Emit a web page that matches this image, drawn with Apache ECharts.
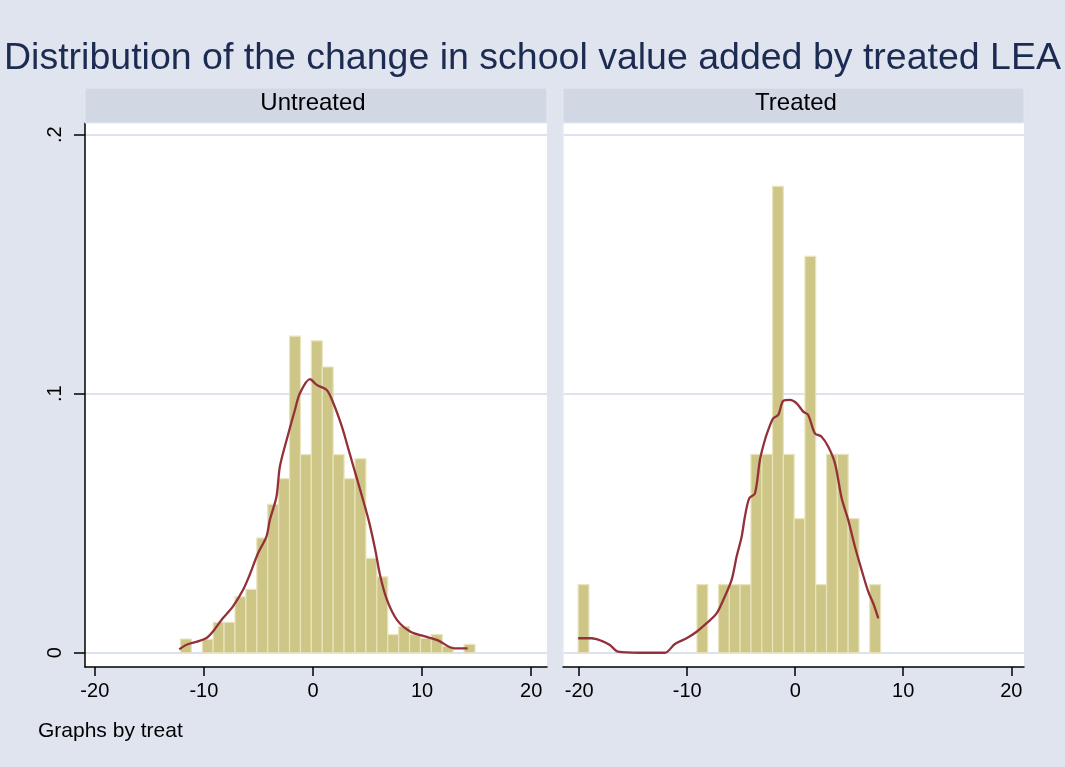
<!DOCTYPE html>
<html><head><meta charset="utf-8">
<script src="https://cdn.jsdelivr.net/npm/echarts@6/dist/echarts.min.js"></script>
<style>html,body{margin:0;padding:0;background:#dfe4ef}#c{width:1065px;height:767px}</style>
</head><body><div id="c"></div>
<script>
// ---- data ----
const chartTitle = 'Distribution of the change in school value added by treated LEA';
const panelNames = ['Untreated', 'Treated'];
const noteText = 'Graphs by treat';
const xTicks = [-20, -10, 0, 10, 20];
const yTicks = [0, 0.1, 0.2];
const yTickLabels = ['0', '.1', '.2'];

const binWidth = 1.0;
const untreatedBinStart = -12.15;
const untreatedDensity = [0.0053, 0, 0.0052, 0.0117, 0.0117, 0.0216, 0.0245, 0.0443, 0.0573, 0.0672,
  0.1222, 0.0765, 0.1204, 0.1103, 0.0765, 0.0672, 0.0749, 0.0364, 0.0293, 0.0070,
  0.0102, 0.0070, 0.0055, 0.0070, 0.0025, 0, 0.0032];
const treatedBinStart = -20.1;
const treatedDensity = [0.0263, 0, 0, 0, 0, 0, 0, 0, 0, 0,
  0, 0.0263, 0, 0.0263, 0.0263, 0.0263, 0.0766, 0.0766, 0.180, 0.0766,
  0.0518, 0.153, 0.0263, 0.0766, 0.0766, 0.0518, 0, 0.0263];

const untreatedKdeX = [-12.26, -11.64, -10.72, -9.8, -9.19, -8.27, -7.35, -6.42, -5.81, -5.04, -4.27, -3.96, -3.35, -3.04, -2.42, -1.66, -1.2, -0.28, 0.34, 1.26, 1.87, 2.65, 3.1, 3.71, 4.33, 5.1, 5.71, 6.18, 6.79, 7.71, 8.94, 10.17, 11.4, 12.94, 14.17];
const untreatedKdeY = [0.0013, 0.0030, 0.0042, 0.0056, 0.0081, 0.0133, 0.0178, 0.0242, 0.0300, 0.0384, 0.0448, 0.0512, 0.0602, 0.0718, 0.0821, 0.0937, 0.1002, 0.1056, 0.1034, 0.1014, 0.0963, 0.0873, 0.0808, 0.0718, 0.0628, 0.0512, 0.0397, 0.0293, 0.0203, 0.0126, 0.0081, 0.0064, 0.0049, 0.0017, 0.0017];
const treatedKdeX = [-20.09, -18.85, -17.93, -17.16, -16.39, -14.38, -12.06, -11.14, -10.06, -9.13, -8.2, -7.28, -6.67, -5.89, -5.43, -4.96, -4.66, -4.26, -3.73, -3.27, -2.9, -2.5, -2.04, -1.57, -1.11, -0.49, 0.13, 0.74, 1.2, 1.82, 2.44, 3.06, 3.68, 4.3, 4.91, 5.53, 6.15, 6.76, 7.22, 7.69];
const treatedKdeY = [0.0056, 0.0056, 0.0046, 0.0030, 0.0004, 0.0, 0.0, 0.0034, 0.0056, 0.0081, 0.0114, 0.0152, 0.0203, 0.0281, 0.0371, 0.0448, 0.0525, 0.0596, 0.0615, 0.0744, 0.0808, 0.0860, 0.0905, 0.0918, 0.0972, 0.0976, 0.0963, 0.0931, 0.0918, 0.0847, 0.0834, 0.0795, 0.0731, 0.0596, 0.0512, 0.0409, 0.0319, 0.0236, 0.0191, 0.0133];

// ---- chart ----
const FONT = 'Liberation Sans, Arial, sans-serif';
const BG = '#dfe4ef';
const GRIDLINE = '#dde3ee';
function bins(start, dens) {
  return dens.map((d, i) => [start + i * binWidth, start + (i + 1) * binWidth, d]);
}
function renderBar(params, api) {
  const s = api.value(0), e = api.value(1), h = api.value(2);
  if (!(h > 0)) return null;
  const p0 = api.coord([s, h]);
  const p1 = api.coord([e, 0]);
  return {
    type: 'rect',
    shape: { x: p0[0], y: p0[1], width: p1[0] - p0[0], height: p1[1] - p0[1] },
    style: { fill: '#cdc686', stroke: '#e9e4bd', lineWidth: 1.2 }
  };
}
const zip = (xs, ys) => xs.map((x, i) => [x, ys[i]]);

const grids = [
  { left: 85, top: 123, width: 462, height: 544 },
  { left: 563, top: 123, width: 461, height: 544 }
];
const xRanges = [[-20.9, 21.45], [-21.5, 21.18]];
const yRange = [-0.0055, 0.2045];

const option = {
  backgroundColor: BG,
  animation: false,
  title: {
    text: chartTitle, left: 'center', top: 35,
    textStyle: { fontSize: 37.5, fontWeight: 'normal', color: '#1c2b52', fontFamily: FONT }
  },
  grid: grids.map(g => Object.assign({ show: true, backgroundColor: '#ffffff', borderWidth: 0 }, g)),
  xAxis: [0, 1].map(i => ({
    gridIndex: i, type: 'value', min: xRanges[i][0], max: xRanges[i][1],
    axisLine: { show: true, onZero: false, lineStyle: { color: '#000', width: 1.5 } },
    axisTick: { show: true, length: 9, customValues: xTicks, lineStyle: { color: '#000', width: 1.5 } },
    axisLabel: { customValues: xTicks, fontSize: 20, color: '#000', margin: 14, fontFamily: FONT },
    splitLine: { show: false }
  })),
  yAxis: [0, 1].map(i => ({
    gridIndex: i, type: 'value', min: yRange[0], max: yRange[1],
    axisLine: { show: true, onZero: false, lineStyle: { color: i === 0 ? '#000' : '#e6eaf2', width: 1.5 } },
    axisTick: { show: i === 0, length: 11, customValues: yTicks, lineStyle: { color: '#000', width: 1.5 } },
    axisLabel: {
      show: i === 0, customValues: yTicks, rotate: 90, fontSize: 20, color: '#000', margin: 20, fontFamily: FONT,
      formatter: v => { const k = yTicks.findIndex(t => Math.abs(t - v) < 1e-9); return k >= 0 ? yTickLabels[k] : ''; }
    },
    splitLine: { show: true, lineStyle: { color: GRIDLINE, width: 2 } }
  })),
  series: [
    { type: 'custom', xAxisIndex: 0, yAxisIndex: 0, renderItem: renderBar, encode: { x: [0, 1], y: 2 }, data: bins(untreatedBinStart, untreatedDensity), z: 2 },
    { type: 'custom', xAxisIndex: 1, yAxisIndex: 1, renderItem: renderBar, encode: { x: [0, 1], y: 2 }, data: bins(treatedBinStart, treatedDensity), z: 2 },
    { type: 'line', xAxisIndex: 0, yAxisIndex: 0, data: zip(untreatedKdeX, untreatedKdeY), showSymbol: false, smooth: 0.3, lineStyle: { color: '#93303a', width: 2.3 }, z: 3 },
    { type: 'line', xAxisIndex: 1, yAxisIndex: 1, data: zip(treatedKdeX, treatedKdeY), showSymbol: false, smooth: 0.3, lineStyle: { color: '#93303a', width: 2.3 }, z: 3 }
  ],
  graphic: [
    { type: 'rect', shape: { x: 85, y: 88, width: 462, height: 35 }, style: { fill: '#d1d8e3', stroke: '#e4e8f0', lineWidth: 1 }, z: 10 },
    { type: 'rect', shape: { x: 563, y: 88, width: 461, height: 35 }, style: { fill: '#d1d8e3', stroke: '#e4e8f0', lineWidth: 1 }, z: 10 },
    { type: 'text', x: 313, y: 103, style: { text: panelNames[0], fontSize: 24, fontFamily: FONT, fill: '#000', align: 'center', verticalAlign: 'middle' }, z: 11 },
    { type: 'text', x: 796, y: 103, style: { text: panelNames[1], fontSize: 24, fontFamily: FONT, fill: '#000', align: 'center', verticalAlign: 'middle' }, z: 11 },
    { type: 'text', x: 38, y: 731, style: { text: noteText, fontSize: 21, fontFamily: FONT, fill: '#000', align: 'left', verticalAlign: 'middle' }, z: 11 }
  ]
};
const chart = echarts.init(document.getElementById('c'), null, { renderer: 'canvas' });
chart.setOption(option);
</script>
</body></html>
